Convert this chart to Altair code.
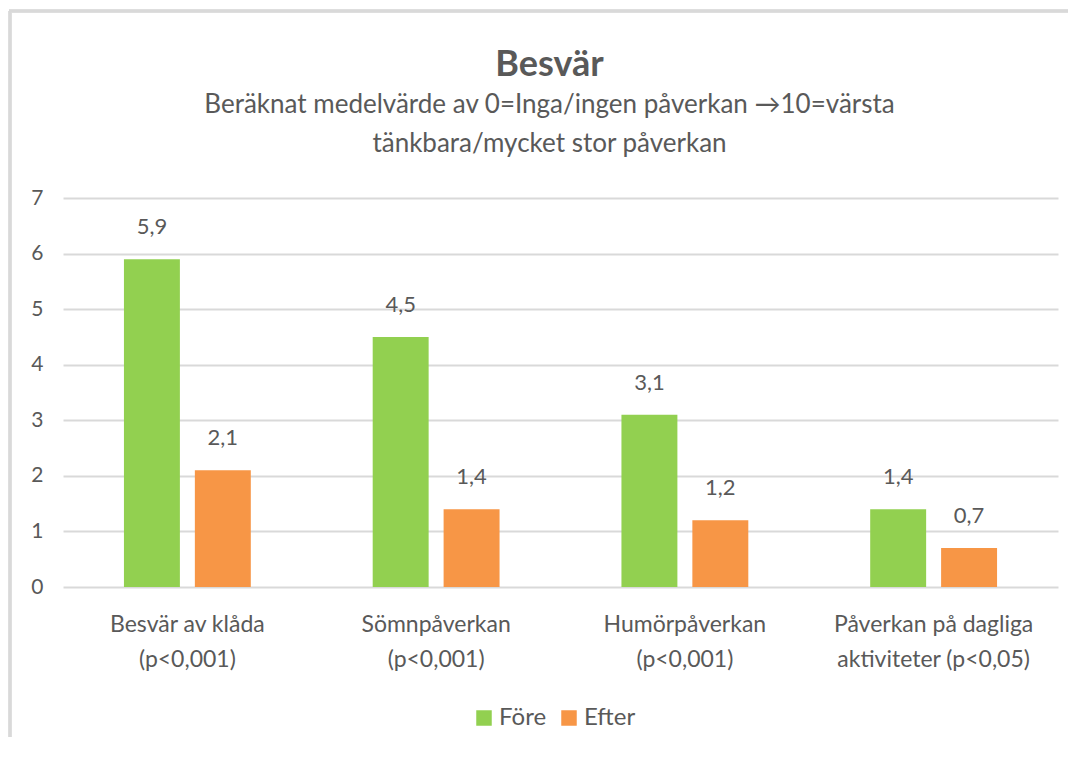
import altair as alt
import pandas as pd

categories = [
    "Besvär av klåda\n(p<0,001)",
    "Sömnpåverkan\n(p<0,001)",
    "Humörpåverkan\n(p<0,001)",
    "Påverkan på dagliga\naktiviteter (p<0,05)",
]
series = ["Före", "Efter"]
fore = [5.9, 4.5, 3.1, 1.4]
efter = [2.1, 1.4, 1.2, 0.7]
colors = ["#92D050", "#F79646"]
y_ticks = [0, 1, 2, 3, 4, 5, 6, 7]

rows = []
for c, f, e in zip(categories, fore, efter):
    rows.append({"kategori": c, "serie": "Före", "värde": f})
    rows.append({"kategori": c, "serie": "Efter", "värde": e})
df = pd.DataFrame(rows)

FONT = "Lato"
TXT = "#595959"
GRID = "#D9D9D9"

base = alt.Chart(df).encode(
    x=alt.X(
        "kategori:N",
        sort=categories,
        title=None,
        scale=alt.Scale(paddingInner=0.49, paddingOuter=0.245),
        axis=alt.Axis(
            labelAngle=0,
            labelExpr="split(datum.label, '\\n')",
            labelFontSize=23,
            labelLineHeight=35,
            labelColor=TXT,
            labelFont=FONT,
            labelPadding=26,
            labelLimit=0,
            domain=False,
            ticks=False,
        ),
    ),
    xOffset=alt.XOffset(
        "serie:N", sort=series, scale=alt.Scale(paddingInner=0.211, paddingOuter=0)
    ),
)

bars = base.mark_bar().encode(
    y=alt.Y(
        "värde:Q",
        title=None,
        scale=alt.Scale(domain=[0, 7], nice=False),
        axis=alt.Axis(
            values=y_ticks,
            format="d",
            domain=False,
            ticks=False,
            grid=True,
            gridColor=GRID,
            gridWidth=2,
            labelFontSize=21,
            labelColor=TXT,
            labelFont=FONT,
            labelPadding=20,
        ),
    ),
    color=alt.Color(
        "serie:N",
        sort=series,
        scale=alt.Scale(domain=series, range=colors),
        legend=alt.Legend(
            title=None,
            orient="none",
            direction="horizontal",
            legendX=409,
            legendY=508,
            symbolType="square",
            symbolSize=240,
            symbolStrokeWidth=0,
            labelFontSize=24,
            labelColor=TXT,
            labelFont=FONT,
            columnPadding=10,
            labelOffset=3,
        ),
    ),
)

labels = base.mark_text(
    baseline="middle", dy=-32, fontSize=22, font=FONT, color=TXT
).encode(
    y=alt.Y("värde:Q"),
    text=alt.Text("lbl:N"),
).transform_calculate(lbl="replace(format(datum['värde'], '.1f'), '.', ',')")

border_left = alt.Chart(df).mark_rule(color=GRID, strokeWidth=2.5).encode(
    x=alt.value(-53), y=alt.value(-187), y2=alt.value(560)
)
border_top = alt.Chart(df).mark_rule(color=GRID, strokeWidth=2.5).encode(
    x=alt.value(-54), x2=alt.value(1015), y=alt.value(-187)
)

chart = (
    alt.layer(border_left, border_top, bars, labels)
    .properties(
        width=995,
        height=389,
        autosize=alt.AutoSizeParams(type="none"),
        padding={"left": 55, "top": 190, "right": 10, "bottom": 150},
        title=alt.TitleParams(
            text="Besvär",
            subtitle=[
                "Beräknat medelvärde  av 0=Inga/ingen påverkan →10=värsta",
                "tänkbara/mycket stor påverkan",
            ],
            anchor="middle",
            dx=-11,
            font=FONT,
            fontSize=36,
            fontWeight="bold",
            color=TXT,
            subtitleFont=FONT,
            subtitleFontSize=26,
            subtitleColor=TXT,
            subtitleLineHeight=39,
            subtitlePadding=8,
            offset=-148,
        ),
    )
    .configure_view(stroke=None)
)

chart.save("out.html", embed_options={"renderer": "svg", "actions": False})
